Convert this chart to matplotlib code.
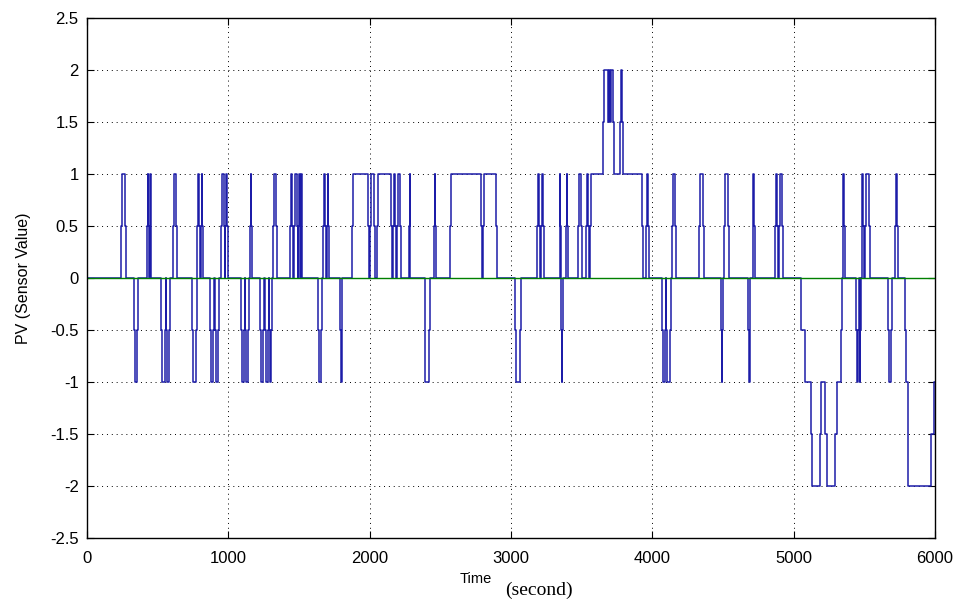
import numpy as np
import matplotlib.pyplot as plt

# simple pulses: start time, end time, peak level (sensor steps in 0.5 units)
pulse_start = [243, 331, 425, 443, 524, 562, 607, 744, 779, 806, 869, 905, 949, 980,
               1089, 1120, 1152, 1226, 1262, 1290, 1318, 1438, 1468, 1495, 1512,
               1637, 1672, 1698, 1792, 1878, 2005, 2052, 2168, 2195, 2279, 2388,
               2458, 2570, 2805, 3030, 3181, 3215, 3344, 3356, 3390, 3471, 3530,
               3958, 4066, 4100, 4142, 4331, 4484, 4508, 4678, 4709, 4869, 4898,
               5348, 5443, 5466, 5480, 5506, 5667, 5719]
pulse_end = [276, 361, 437, 453, 556, 588, 638, 779, 800, 820, 900, 933, 975, 997,
             1115, 1148, 1167, 1255, 1285, 1308, 1344, 1460, 1490, 1508, 1523,
             1665, 1690, 1714, 1806, 1995, 2040, 2160, 2185, 2219, 2288, 2430,
             2468, 2795, 2904, 3069, 3205, 3235, 3352, 3366, 3400, 3502, 3550,
             3974, 4095, 4130, 4170, 4362, 4500, 4543, 4692, 4723, 4890, 4925,
             5360, 5462, 5474, 5500, 5537, 5698, 5738]
pulse_level = [1, -1, 1, 1, -1, -1, 1, -1, 1, 1, -1, -1, 1, 1,
               -1, -1, 1, -1, -1, -1, 1, 1, 1, 1, 1,
               -1, 1, 1, -1, 1, 1, 1, 1, 1, 1, -1,
               1, 1, 1, -1, 1, 1, 1, -1, 1, 1, 1,
               1, -1, -1, 1, 1, -1, 1, -1, 1, 1, 1,
               1, -1, -1, 1, 1, -1, 1]

# longer excursions read step by step (time, new value)
block_t = [3558, 3565, 3650, 3656, 3684, 3692, 3700, 3706, 3720, 3726, 3773, 3778,
           3786, 3792, 3926, 3934,
           5053, 5077, 5124, 5128, 5186, 5190, 5219, 5237, 5289, 5306, 5336, 5342,
           5785, 5795, 5809, 5974, 5995]
block_v = [0.5, 1, 1.5, 2, 1.5, 2, 1.5, 2, 1.5, 1, 1.5, 2,
           1.5, 1, 0.5, 0,
           -0.5, -1, -1.5, -2, -1.5, -1, -1.5, -2, -1.5, -1, -0.5, 0,
           -0.5, -1, -2, -1.5, -1]

t_end = 6000
setpoint = 0

steps = [(0, 0)]
for a, b, p in zip(pulse_start, pulse_end, pulse_level):
    r = min(7, (b - a) / 3)
    steps += [(a, p / 2), (a + r, p), (b - r, p / 2), (b, 0)]
steps += list(zip(block_t, block_v))
steps.sort(key=lambda s: s[0])
steps.append((t_end, steps[-1][1]))
t = np.array([s[0] for s in steps], dtype=float)
v = np.array([s[1] for s in steps], dtype=float)

plt.rcParams['font.family'] = ['Liberation Sans', 'DejaVu Sans']

fig = plt.figure(figsize=(9.6, 6.02), dpi=100)
ax = fig.add_axes([0.0906, 0.1063, 0.8834, 0.8637])

ax.plot(t, v, drawstyle='steps-post', color='#1c1ca8', lw=1.1)
ax.plot([0, t_end], [setpoint, setpoint], color='#008000', lw=1.0)

ax.set_xlim(0, 6000)
ax.set_ylim(-2.5, 2.5)
ax.set_xticks(np.arange(0, 6001, 1000))
ax.set_yticks(np.arange(-2.5, 2.51, 0.5))
ax.set_yticklabels(['-2.5', '-2', '-1.5', '-1', '-0.5', '0', '0.5', '1', '1.5', '2', '2.5'])
ax.grid(True, color='black', linestyle=(0, (1, 4)), lw=0.7)
ax.tick_params(direction='in', top=True, right=True, length=5, labelsize=12)
ax.tick_params(axis='x', pad=9)
ax.tick_params(axis='y', pad=6)
for s in ax.spines.values():
    s.set_linewidth(1.0)

ax.set_ylabel('PV (Sensor Value)', fontsize=11.5, labelpad=14)
fig.text(0.496, 0.038, 'Time', fontsize=10.5, ha='center', va='center')
fig.text(0.561, 0.02, '(second)', fontsize=14, ha='center', va='center',
         family='Liberation Serif')

fig.savefig('out.png', dpi=100)
